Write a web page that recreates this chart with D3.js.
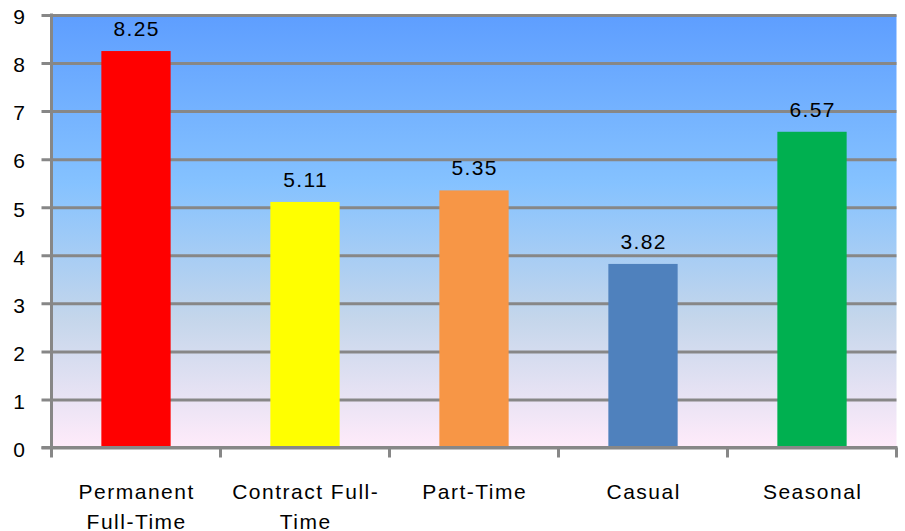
<!DOCTYPE html>
<html><head><meta charset="utf-8">
<script src="https://cdn.jsdelivr.net/npm/d3@7"></script>
<style>
html,body{margin:0;padding:0;background:#fff;}
svg{display:block;}
text{font-family:"Liberation Sans",Arial,sans-serif;fill:#000;}
</style></head>
<body>
<svg id="chart" width="905" height="531"></svg>
<script>
const categories = ["Permanent Full-Time","Contract Full-Time","Part-Time","Casual","Seasonal"];
const categoryLines = [["Permanent","Full-Time"],["Contract Full-","Time"],["Part-Time"],["Casual"],["Seasonal"]];
const values = [8.25,5.11,5.35,3.82,6.57];
const valueLabels = ["8.25","5.11","5.35","3.82","6.57"];
const barColors = ["#FF0000","#FFFF00","#F79646","#4F81BD","#00B050"];
const yTicks = [0,1,2,3,4,5,6,7,8,9];

const svg = d3.select("#chart");
const L = 51.5, R = 896.5, T = 15, B = 447.5;
const x = d3.scaleBand().domain(categories).range([L,R]).paddingInner(0.59).paddingOuter(0.295);
const y = d3.scaleLinear().domain([0,9]).range([B,T]);

const defs = svg.append("defs");
const g = defs.append("linearGradient").attr("id","bg").attr("x1",0).attr("y1",0).attr("x2",0).attr("y2",1);
[[0,"#5E9EFF"],[0.39,"#85C2FF"],[0.7,"#C4D6EB"],[1,"#FFEBFA"]].forEach(([o,c])=>g.append("stop").attr("offset",o).attr("stop-color",c));

svg.append("rect").attr("x",L).attr("y",T).attr("width",R-L).attr("height",B-T).attr("fill","url(#bg)");

// gridlines + y ticks
const yAxis = d3.axisLeft(y).tickValues(yTicks).tickSize(-(R-L)).tickPadding(0).tickFormat(d3.format("d"));
const ya = svg.append("g").attr("transform",`translate(${L},0)`).call(yAxis);
ya.select(".domain").remove();
ya.selectAll(".tick line").attr("x1",-10).attr("stroke","#878787").attr("stroke-width",3);
ya.selectAll(".tick text").attr("x",-26.5).attr("dy","0.42em").attr("font-size",21).attr("font-family","Liberation Sans, Arial, sans-serif").attr("fill","#000").attr("text-anchor","end");

// bars
svg.append("g").selectAll("rect").data(values).join("rect")
  .attr("x",(d,i)=>x(categories[i]))
  .attr("y",d=>y(d))
  .attr("width",x.bandwidth())
  .attr("height",d=>y(0)-y(d))
  .attr("fill",(d,i)=>barColors[i]);

// value labels
svg.append("g").selectAll("text").data(values).join("text")
  .attr("x",(d,i)=>x(categories[i])+x.bandwidth()/2+0.7)
  .attr("y",d=>y(d)-15)
  .attr("text-anchor","middle")
  .attr("font-size",21)
  .attr("letter-spacing",1.4)
  .text((d,i)=>valueLabels[i]);

// y axis line
svg.append("line").attr("x1",L).attr("x2",L).attr("y1",T-1.5).attr("y2",B+1.5).attr("stroke","#878787").attr("stroke-width",3);

// x axis
svg.append("line").attr("x1",L-10).attr("x2",R+1).attr("y1",B).attr("y2",B).attr("stroke","#878787").attr("stroke-width",3);
const bounds = categories.map(c=>x(c)-x.step()*x.paddingInner()/2).concat([R]);
svg.append("g").selectAll("line").data(bounds).join("line")
  .attr("x1",d=>d).attr("x2",d=>d).attr("y1",B).attr("y2",B+10)
  .attr("stroke","#878787").attr("stroke-width",3);

// category labels
const cl = svg.append("g").selectAll("text").data(categories).join("text")
  .attr("x",c=>x(c)+x.bandwidth()/2+0.7)
  .attr("y",499)
  .attr("text-anchor","middle")
  .attr("font-size",21)
  .attr("letter-spacing",1.5);
cl.each(function(c,i){
  const t = d3.select(this);
  categoryLines[i].forEach((ln,j)=>{
    t.append("tspan").attr("x",x(c)+x.bandwidth()/2+0.7).attr("dy",j===0?0:30).text(ln);
  });
});
</script>
</body></html>
